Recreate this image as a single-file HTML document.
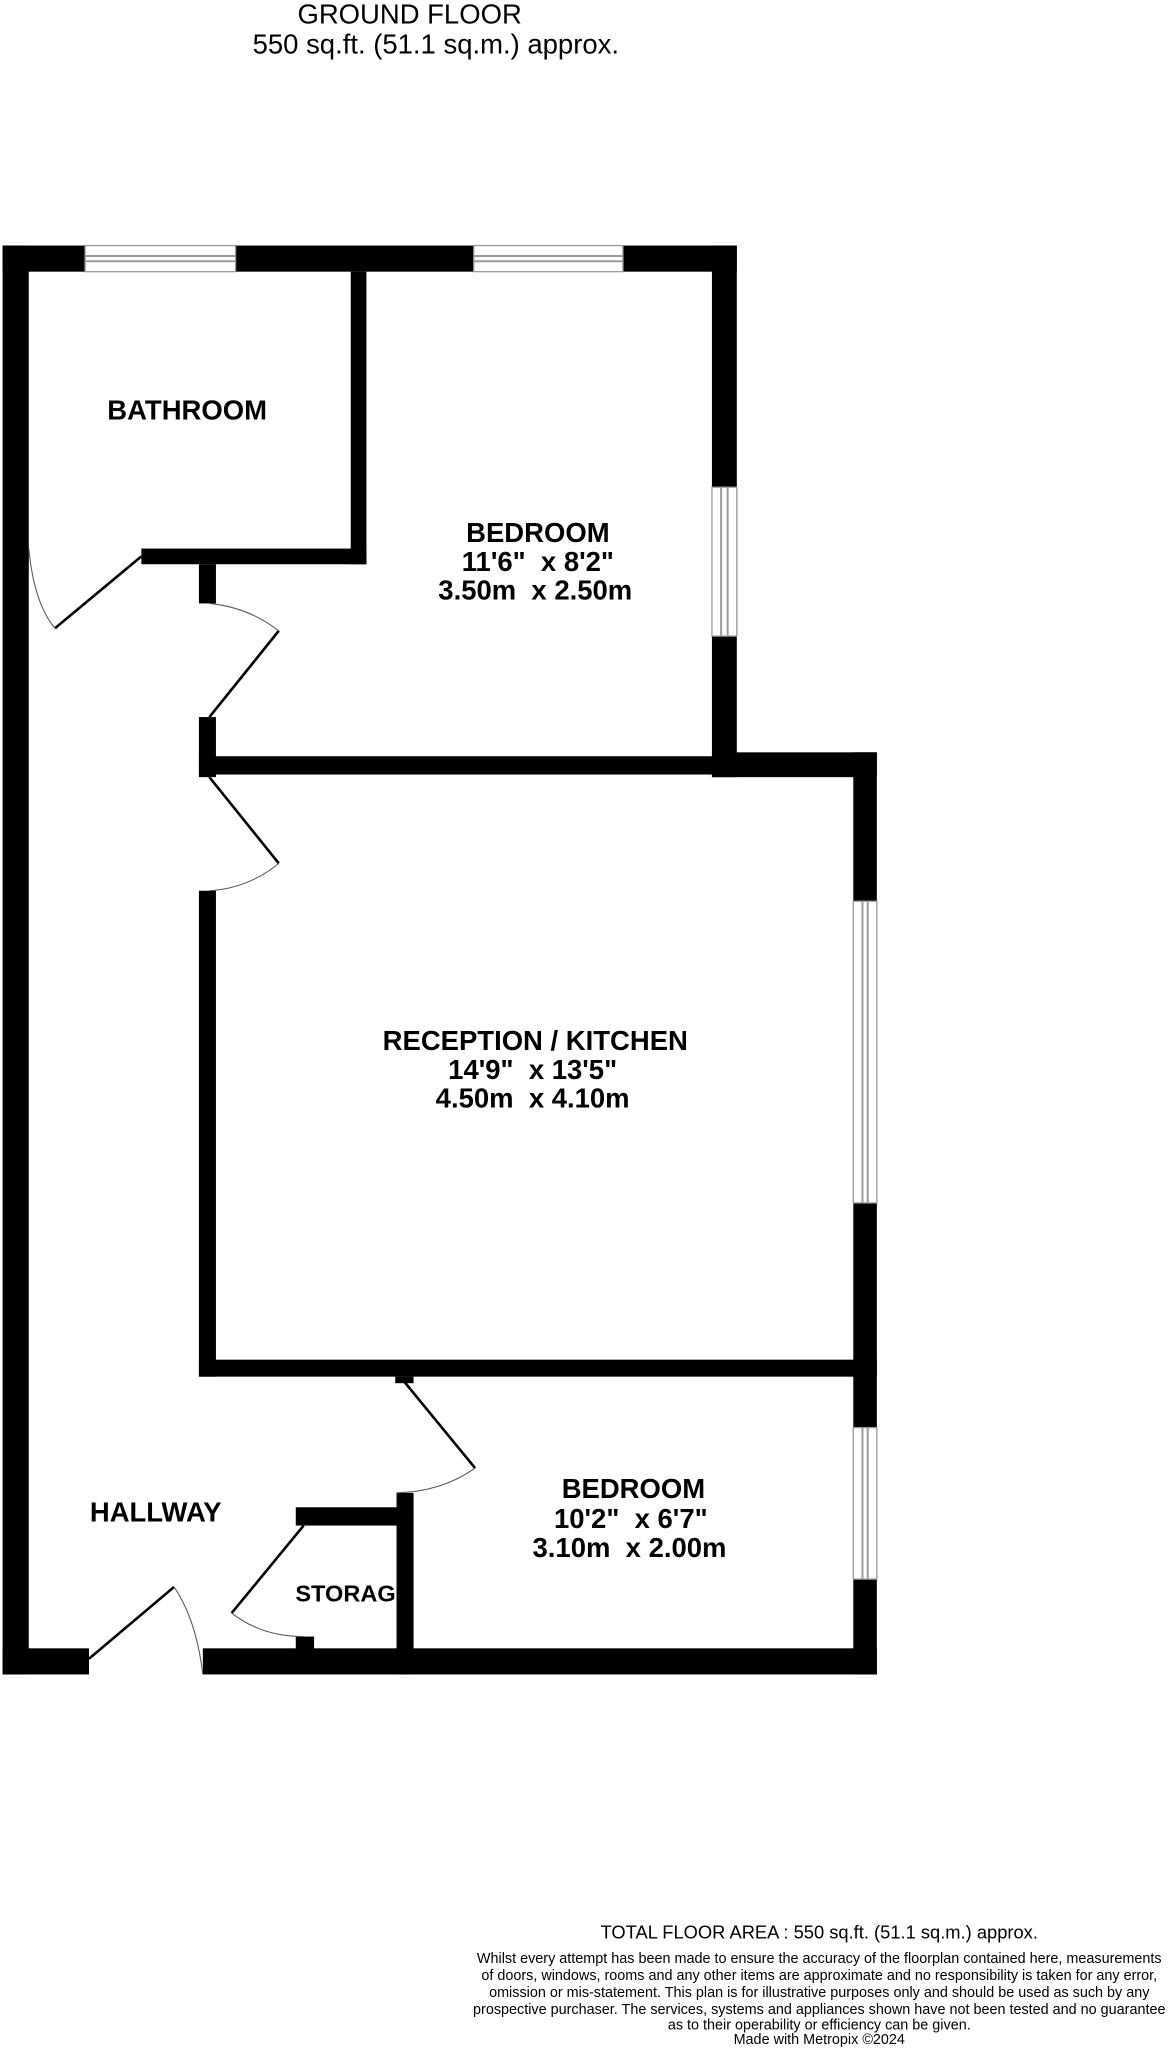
<!DOCTYPE html>
<html><head><meta charset="utf-8"><style>
html,body{margin:0;padding:0;background:#fff;}
svg{display:block;}
text{font-family:"Liberation Sans",sans-serif;white-space:pre;}
</style></head><body>
<svg width="1170" height="2048" viewBox="0 0 894 1568" preserveAspectRatio="none" xmlns="http://www.w3.org/2000/svg" xml:space="preserve">
<rect width="894" height="1568" fill="#fff"/>
<text x="313" y="18" font-size="21" text-anchor="middle">GROUND FLOOR</text>
<text x="333" y="41" font-size="21" text-anchor="middle">550 sq.ft. (51.1 sq.m.) approx.</text>
<g fill="#000">
<rect x="2" y="188" width="20" height="1094"/>
<rect x="2" y="188" width="561" height="20"/>
<rect x="544" y="188" width="19" height="407"/>
<rect x="268" y="208" width="12" height="224"/>
<rect x="108" y="420" width="172" height="12"/>
<rect x="152" y="432" width="13" height="30"/>
<rect x="152" y="549" width="13" height="46"/>
<rect x="152" y="579" width="411" height="14"/>
<rect x="544" y="576" width="126" height="19"/>
<rect x="652" y="576" width="18" height="706"/>
<rect x="152" y="682" width="13" height="372"/>
<rect x="152" y="1041" width="518" height="13"/>
<rect x="302" y="1054" width="14" height="5"/>
<rect x="303" y="1143" width="13" height="139"/>
<rect x="226" y="1154" width="90" height="14"/>
<rect x="226" y="1253" width="14" height="15"/>
<rect x="2" y="1262" width="66" height="20"/>
<rect x="155" y="1262" width="515" height="20"/>
</g>
<g fill="#fff" stroke="#999" stroke-width="1">
<rect x="65" y="188" width="115" height="20"/>
<rect x="362" y="188" width="114" height="20"/>
<rect x="544" y="373" width="19" height="114"/>
<rect x="652" y="690" width="18" height="231"/>
<rect x="652" y="1093" width="18" height="116"/>
</g>
<g stroke="#999" stroke-width="1.5">
<line x1="65" y1="196" x2="180" y2="196"/><line x1="65" y1="200" x2="180" y2="200"/>
<line x1="362" y1="196" x2="476" y2="196"/><line x1="362" y1="200" x2="476" y2="200"/>
<line x1="551" y1="373" x2="551" y2="487"/><line x1="556" y1="373" x2="556" y2="487"/>
<line x1="659" y1="690" x2="659" y2="921"/><line x1="663" y1="690" x2="663" y2="921"/>
<line x1="659" y1="1093" x2="659" y2="1209"/><line x1="663" y1="1093" x2="663" y2="1209"/>
</g>
<g stroke="#000" stroke-width="2" fill="none">
<line x1="108" y1="426" x2="42" y2="481"/>
<line x1="160" y1="549" x2="213" y2="483"/>
<line x1="160" y1="595" x2="213" y2="661"/>
<line x1="309" y1="1058" x2="363" y2="1124"/>
<line x1="232" y1="1168" x2="177" y2="1235"/>
<line x1="68" y1="1270" x2="133" y2="1215"/>
</g>
<g stroke="#555" stroke-width="0.8" fill="none">
<path d="M22 420 Q26 462 42 481"/>
<path d="M160 462 Q190 465 213 483"/>
<path d="M213 661 Q190 680 160 682"/>
<path d="M363 1124 Q338 1142 303 1143"/>
<path d="M177 1235 Q200 1253 232 1253"/>
<path d="M133 1215 Q150 1240 155 1282"/>
</g>
<g font-weight="bold" font-size="21" text-anchor="middle">
<text x="143" y="321">BATHROOM</text>
<text x="411" y="415">BEDROOM</text>
<text x="411" y="437">11'6"  x 8'2"</text>
<text x="409" y="459">3.50m  x 2.50m</text>
<text x="409" y="804">RECEPTION / KITCHEN</text>
<text x="407" y="826">14'9"  x 13'5"</text>
<text x="407" y="848">4.50m  x 4.10m</text>
<text x="484" y="1147">BEDROOM</text>
<text x="482" y="1170">10'2"  x 6'7"</text>
<text x="481" y="1192">3.10m  x 2.00m</text>
<text x="119" y="1165">HALLWAY</text>
<text x="264" y="1226" font-size="18">STORAG</text>
</g>
<text x="626" y="1484" font-size="14" text-anchor="middle">TOTAL FLOOR AREA : 550 sq.ft. (51.1 sq.m.) approx.</text>
<g font-size="11" text-anchor="middle">
<text x="626" y="1503">Whilst every attempt has been made to ensure the accuracy of the floorplan contained here, measurements</text>
<text x="626" y="1516">of doors, windows, rooms and any other items are approximate and no responsibility is taken for any error,</text>
<text x="626" y="1529">omission or mis-statement. This plan is for illustrative purposes only and should be used as such by any</text>
<text x="626" y="1542">prospective purchaser. The services, systems and appliances shown have not been tested and no guarantee</text>
<text x="626" y="1554">as to their operability or efficiency can be given.</text>
<text x="626" y="1565">Made with Metropix ©2024</text>
</g>
</svg>
</body></html>
